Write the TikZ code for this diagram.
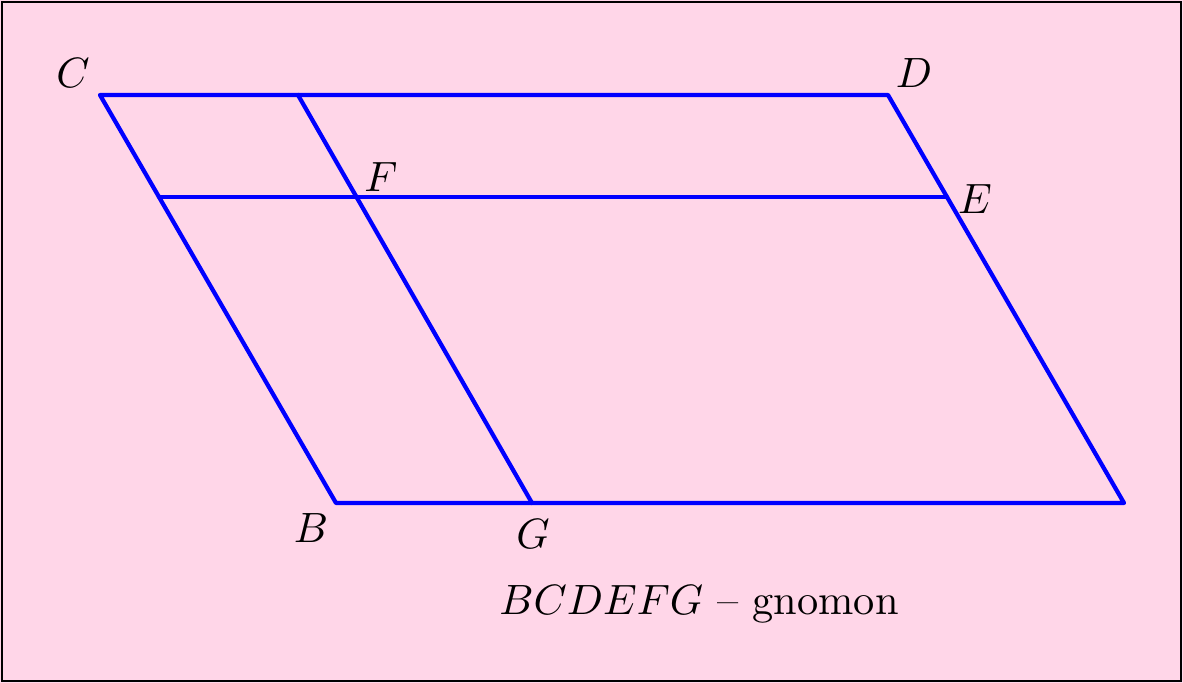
\documentclass[tikz,border=0pt]{standalone}
\definecolor{bgpink}{RGB}{255,214,232}
\tikzset{
  seg/.style={blue, line width=1pt, line cap=round, line join=round},
  lbl/.style={inner sep=0pt, anchor=center},
}
\begin{document}
\begin{tikzpicture}[x=0.236pt, y=-0.236pt]
\useasboundingbox (0,0) rectangle (1183,683);
\fill[bgpink] (0,0) rectangle (1183,683);
\draw[black, line width=0.5pt] (2,2) rectangle (1181,681);
% points
\coordinate (C) at (100,95);
\coordinate (D) at (888,95);
\coordinate (A) at (1124,503);
\coordinate (B) at (336,503);
\coordinate (H) at (298,95);
\coordinate (G) at (532,503);
\coordinate (K) at (159,197);
\coordinate (E) at (947,197);
\coordinate (F) at (357,197);
% lines
\draw[seg] (C) -- (D) -- (A) -- (B) -- cycle;
\draw[seg] (H) -- (G);
\draw[seg] (K) -- (E);
% labels
\node[lbl] (lC) at (73,73) {$C$};
\node[lbl] (lD) at (914,73) {$D$};
\node[lbl] (lF) at (381,177) {$F$};
\node[lbl] (lE) at (975,199) {$E$};
\node[lbl] (lB) at (311,528) {$B$};
\node[lbl] (lG) at (533,534) {$G$};
\node[lbl] (cap) at (699,604) {$BCDEFG$ -- gnomon};
\end{tikzpicture}
\end{document}
